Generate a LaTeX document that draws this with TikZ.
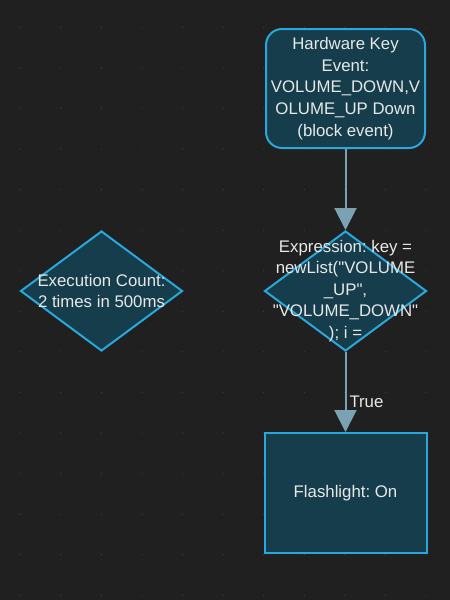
\documentclass[tikz,border=0pt]{standalone}
\usepackage{fontspec}
\setmainfont{Liberation Sans}
\usetikzlibrary{arrows.meta,positioning,shapes.geometric}
\definecolor{canvasbg}{HTML}{202020}
\definecolor{griddot}{HTML}{3C3C3C}
\definecolor{nodefill}{HTML}{153D4B}
\definecolor{nodeedge}{HTML}{2AA8DC}
\definecolor{linkgray}{HTML}{7BA2B3}
\definecolor{labeltext}{HTML}{E8E8E8}
\frenchspacing

\begin{document}
\begin{tikzpicture}[x=1pt, y=-1pt,
        node distance=81pt,
        every node/.style={font=\fontsize{16.8}{21.6}\selectfont, text=labeltext},
        event/.style={draw=nodeedge, fill=nodefill, line width=2pt, rounded corners=16pt,
          minimum width=159pt, minimum height=119pt, align=center, inner sep=0pt},
        decision/.style={diamond, draw=nodeedge, fill=nodefill, line width=2pt,
          minimum width=162pt, minimum height=120pt, inner sep=0pt},
        action/.style={draw=nodeedge, fill=nodefill, line width=2pt,
          minimum width=162pt, minimum height=120pt, align=center},
        link/.style={draw=linkgray, line width=2pt, -{Triangle[length=22pt, width=22pt]}}]
        \useasboundingbox (0,0) rectangle (450,600);
        \fill[canvasbg] (0,0) rectangle (450,600);
        % grid dots
        \foreach \i in {0,...,10}
          \foreach \j in {0,...,14}
            \fill[griddot] (20.3+40.57*\i, 27.3+40.57*\j) circle (0.7pt);
        \node[event] (hwkey) at (345.5,88.5) {Hardware Key\\Event:\\VOLUME\_DOWN,V\\OLUME\_UP Down\\(block event)};
        \node[decision, below=81pt of hwkey,
          label={[align=center]center:Expression: key =\\newList(\textquotedbl VOLUME\\\_UP\textquotedbl,\\\textquotedbl VOLUME\_DOWN\textquotedbl\\); i =}] (expr) {};
        \node[decision, left=80pt of expr,
          label={[align=center]center:Execution Count:\\2 times in 500ms}] (count) {};
        \node[action, below=80pt of expr] (flash) {Flashlight: On};
        \draw[link] (hwkey) -- (expr);
        \draw[link] (expr) -- node[pos=0.62, right, inner sep=3pt]{True} (flash);
      \end{tikzpicture}
\end{document}
